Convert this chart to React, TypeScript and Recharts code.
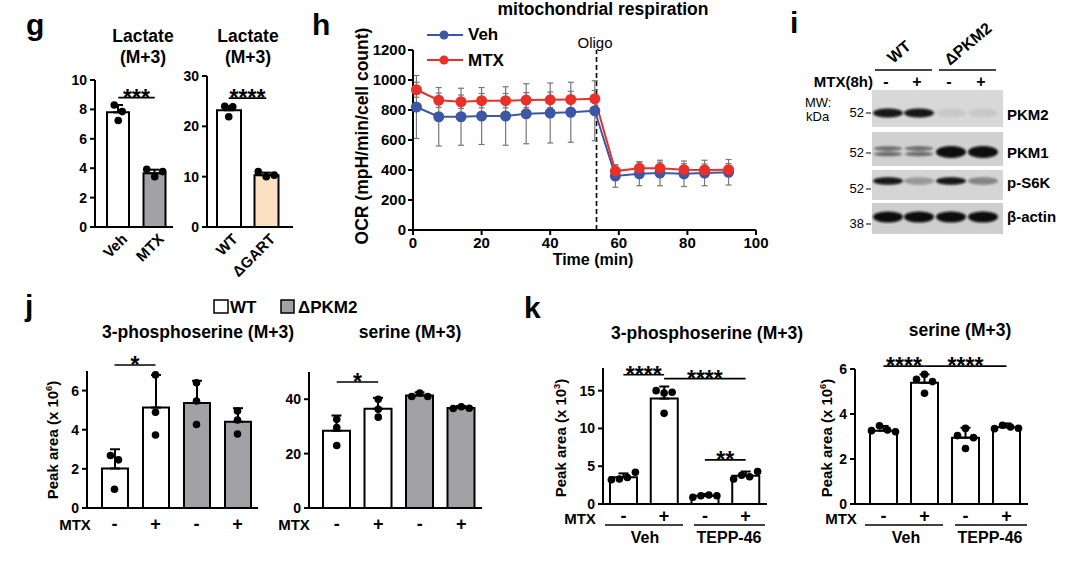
import React from 'react';
import { ComposedChart, LineChart, Line, Bar, Cell, ErrorBar, Scatter, XAxis, YAxis, ReferenceLine } from 'recharts';

const FONT = "'Liberation Sans', Arial, Helvetica, sans-serif";
const BLUE = '#3C57A6';
const RED = '#E8312A';
const GRAY = '#A2A2A6';
const PEACH = '#FBE0C4';

// g: lactate (M+3)
const lacMtxCats = ['Veh', 'MTX'];
const lacMtxMean = [7.8, 3.65];
const lacMtxSd = [0.5, 0.25];
const lacMtxPts = [[7.25, 8.3, 7.85], [3.93, 3.42, 3.77]];

const lacGartCats = ['WT', '\u0394GART'];
const lacGartMean = [23.2, 10.3];
const lacGartSd = [0.8, 0.5];
const lacGartPts = [[24.0, 21.9, 23.9], [11.0, 10.0, 10.3]];

// h: mitochondrial respiration
const ocrTime = [1, 7.5, 14, 20, 27, 33, 40, 46, 53, 59, 66, 72, 79, 85, 92];
const vehOcr = [820, 755, 755, 760, 760, 775, 780, 785, 795, 360, 375, 380, 375, 380, 385];
const vehOcrSd = [210, 195, 190, 190, 195, 200, 200, 200, 200, 75, 80, 85, 85, 85, 85];
const mtxOcr = [935, 865, 855, 862, 862, 866, 868, 870, 875, 393, 412, 412, 402, 400, 402];
const mtxOcrSd = [50, 48, 45, 48, 48, 50, 52, 55, 55, 40, 40, 40, 40, 40, 40];

// i: western blot band intensities per lane (WT -, WT +, dPKM2 -, dPKM2 +)
const pkm2Band = [0.95, 0.95, 0.07, 0.07];
const pkm1Band = [0.55, 0.55, 1, 1];
const ps6kBand = [0.95, 0.3, 0.95, 0.4];
const actinBand = [1, 1, 1, 1];

// j: WT vs dPKM2
const jCats = ['WT-', 'WT+', 'KO-', 'KO+'];
const mtxSigns = ['-', '+', '-', '+'];
const j3psMean = [2.02, 5.13, 5.37, 4.41];
const j3psSd = [0.98, 1.67, 1.13, 0.69];
const j3psPts = [[2.68, 0.96, 2.46], [4.89, 3.73, 6.8], [5.47, 4.27, 6.4], [4.5, 3.78, 4.95]];
const jSerMean = [28.4, 36.5, 41.4, 36.8];
const jSerSd = [5.6, 4.0, 1.1, 0.7];
const jSerPts = [[32.6, 29.6, 23.0], [40.0, 36.3, 33.4], [41.0, 42.3, 41.0], [36.6, 37.2, 36.7]];

// k: Veh vs TEPP-46
const kCats = ['Veh-', 'Veh+', 'TEPP-', 'TEPP+'];
const k3psMean = [3.55, 13.95, 1.08, 3.75];
const k3psSd = [0.5, 1.6, 0.25, 0.55];
const k3psPts = [[3.2, 3.3, 3.5, 4.2], [15.0, 14.7, 12.0, 14.8], [0.9, 1.1, 1.2, 1.1], [3.3, 3.8, 3.6, 4.3]];
const kSerMean = [3.26, 5.39, 2.95, 3.41];
const kSerSd = [0.21, 0.37, 0.44, 0.17];
const kSerPts = [[3.26, 3.48, 3.29, 3.21], [5.54, 5.76, 4.92, 5.44], [3.04, 3.36, 2.47, 2.95], [3.35, 3.5, 3.42, 3.37]];

type Box = { x0: number; y0: number; x1: number; y1: number };
type Sig = [number, number, string];

const MT = 40;
const MR = 10;
const XH = 34;
const YW = 40;
const AXIS = { stroke: '#000', strokeWidth: 2 };

function place(box: Box, yw: number, xh = XH, mr = MR) {
  return {
    left: box.x0 - yw,
    top: box.y0 - MT,
    width: box.x1 - box.x0 + yw + mr,
    height: box.y1 - box.y0 + MT + xh,
  };
}

// GraphPad-like spreading: only points that would overlap get pushed sideways
function spreadOffsets(vals: number[], ppu: number, thr = 7.5, step = 8) {
  const idx = vals.map((_, i) => i).sort((a, b) => vals[a] - vals[b]);
  const off = vals.map(() => 0);
  let cluster: number[] = [idx[0]];
  const flush = () => {
    const m = [...cluster].sort((a, b) => a - b);
    m.forEach((p, k) => {
      off[p] = (k - (m.length - 1) / 2) * step;
    });
  };
  for (let k = 1; k < idx.length; k++) {
    if ((vals[idx[k]] - vals[idx[k - 1]]) * ppu < thr) cluster.push(idx[k]);
    else {
      flush();
      cluster = [idx[k]];
    }
  }
  flush();
  return off;
}

const RotTick = (p: any) => {
  const x = p.x + 10;
  const y = p.y + 13;
  return (
    <text x={x} y={y} textAnchor="end" transform={`rotate(-45 ${x} ${y})`} fontSize={15} fontWeight={700} fontFamily={FONT} fill="#000">
      {p.payload.value}
    </text>
  );
};

const signTick = (dy: number) => (p: any) => (
  <text x={p.x} y={p.y + dy} textAnchor="middle" fontSize={18} fontWeight={700} fontFamily={FONT} fill="#000">
    {mtxSigns[p.index]}
  </text>
);

type BarPanelProps = {
  cats: string[];
  mean: number[];
  sd: number[];
  pts: number[][];
  fills: string[];
  box: Box;
  max: number;
  ticks: number[];
  padL: number;
  padR: number;
  barSize: number;
  sig: Sig[];
  levels: number[];
  tick: (p: any) => React.ReactElement;
  xh?: number;
};

function BarPanel({ cats, mean, sd, pts, fills, box, max, ticks, padL, padR, barSize, sig, levels, tick, xh = XH }: BarPanelProps) {
  const ppu = (box.y1 - box.y0) / max;
  const nPts = pts[0].length;
  const rows = cats.map((c, i) => {
    const r: any = { cat: c, mean: mean[i], err: [0, sd[i]], off: spreadOffsets(pts[i], ppu) };
    pts[i].forEach((v, k) => {
      r['p' + k] = v;
    });
    return r;
  });
  const pos = place(box, YW, xh);
  return (
    <div style={{ position: 'absolute', left: pos.left, top: pos.top }}>
      <ComposedChart width={pos.width} height={pos.height} data={rows} margin={{ top: MT, right: MR, bottom: 0, left: 0 }}>
        <XAxis
          dataKey="cat"
          type="category"
          interval={0}
          padding={{ left: padL, right: padR }}
          height={xh}
          tickLine={false}
          tickSize={0}
          tickMargin={0}
          axisLine={AXIS}
          tick={tick}
        />
        <YAxis
          type="number"
          domain={[0, max]}
          ticks={ticks}
          interval={0}
          width={YW}
          allowDataOverflow
          tickSize={5}
          tickMargin={3}
          axisLine={AXIS}
          tickLine={AXIS}
          tick={{ fill: '#000', fontSize: 14, fontWeight: 700, fontFamily: FONT }}
        />
        <Bar dataKey="mean" barSize={barSize} stroke="#000" strokeWidth={2} isAnimationActive={false}>
          {rows.map((r, i) => (
            <Cell key={r.cat} fill={fills[i]} />
          ))}
          <ErrorBar dataKey="err" direction="y" width={5} stroke="#000" strokeWidth={2} />
        </Bar>
        {Array.from({ length: nPts }, (_, k) => (
          <Scatter
            key={k}
            dataKey={'p' + k}
            isAnimationActive={false}
            shape={(s: any) => <circle cx={s.cx + s.payload.off[k]} cy={s.cy} r={3.8} fill="#000" />}
          />
        ))}
        {sig.map(([a, b, txt], i) => (
          <ReferenceLine
            key={i}
            segment={[
              { x: cats[a], y: levels[i] },
              { x: cats[b], y: levels[i] },
            ]}
            stroke="#000"
            strokeWidth={1.6}
            ifOverflow="visible"
            label={(l: any) => (
              <text x={l.viewBox.x + l.viewBox.width / 2} y={l.viewBox.y + 8} textAnchor="middle" fontSize={23} fontWeight={700} fontFamily={FONT} fill="#000">
                {txt}
              </text>
            )}
          />
        ))}
      </ComposedChart>
    </div>
  );
}

function OcrPanel() {
  const box = { x0: 413, y0: 50, x1: 756, y1: 230 };
  const yw = 62;
  const mr = 24;
  const pos = place(box, yw, XH, mr);
  const rows = ocrTime.map((t, i) => ({ t, veh: vehOcr[i], vehSd: vehOcrSd[i], mtx: mtxOcr[i], mtxSd: mtxOcrSd[i] }));
  const tickStyle = { fill: '#000', fontSize: 15, fontWeight: 700, fontFamily: FONT };
  return (
    <div style={{ position: 'absolute', left: pos.left, top: pos.top }}>
      <LineChart width={pos.width} height={pos.height} data={rows} margin={{ top: MT, right: mr, bottom: 0, left: 0 }}>
        <XAxis dataKey="t" type="number" domain={[0, 100]} ticks={[0, 20, 40, 60, 80, 100]} interval={0} height={XH} tickSize={5} tickMargin={2} axisLine={AXIS} tickLine={AXIS} tick={tickStyle} />
        <YAxis type="number" domain={[0, 1200]} ticks={[0, 200, 400, 600, 800, 1000, 1200]} interval={0} width={yw} tickSize={5} tickMargin={2} axisLine={AXIS} tickLine={AXIS} tick={tickStyle} />
        <ReferenceLine x={53.5} stroke="#000" strokeDasharray="5 3" strokeWidth={1.6} />
        <Line dataKey="veh" stroke={BLUE} strokeWidth={2} dot={{ r: 4.5, fill: BLUE, stroke: BLUE }} isAnimationActive={false}>
          <ErrorBar dataKey="vehSd" direction="y" width={3} stroke="#777" strokeWidth={1.2} />
        </Line>
        <Line dataKey="mtx" stroke={RED} strokeWidth={2} dot={{ r: 4.5, fill: RED, stroke: RED }} isAnimationActive={false}>
          <ErrorBar dataKey="mtxSd" direction="y" width={3} stroke="#777" strokeWidth={1.2} />
        </Line>
      </LineChart>
    </div>
  );
}

const B = (p: any) => <text fontFamily={FONT} fontWeight={700} fill="#000" {...p} />;
const R = (p: any) => <text fontFamily={FONT} fill="#000" {...p} />;

function YLabel({ x, y, exp, size = 15 }: { x: number; y: number; exp: string; size?: number }) {
  return (
    <B x={x} y={y} fontSize={size} textAnchor="middle" transform={`rotate(-90 ${x} ${y})`}>
      Peak area (x 10
      <tspan fontSize={size * 0.62} dy={-6}>
        {exp}
      </tspan>
      <tspan dy={6}>)</tspan>
    </B>
  );
}

function Blot() {
  const lanes = [888, 919, 951, 983];
  const rows = [
    { label: 'PKM2', y0: 90, y1: 127, cy: 113, ry: 4.5, vals: pkm2Band, mw: '52', mwY: 117, ly: 120, bg: '#d8d8d8' },
    { label: 'PKM1', y0: 132, y1: 166, cy: 152, ry: 6, vals: pkm1Band, mw: '52', mwY: 157, ly: 158, bg: '#d0d0d0' },
    { label: 'p-S6K', y0: 170, y1: 200, cy: 181, ry: 3.8, vals: ps6kBand, mw: '52', mwY: 193, ly: 188, bg: '#d5d5d5' },
    { label: '\u03b2-actin', y0: 203, y1: 234, cy: 217, ry: 5.5, vals: actinBand, mw: '38', mwY: 228, ly: 222, bg: '#cecece' },
  ];
  return (
    <g>
      <defs>
        <filter id="blur" x="-20%" y="-50%" width="140%" height="200%">
          <feGaussianBlur stdDeviation="1.3" />
        </filter>
      </defs>
      <B x={790} y={33} fontSize={30}>i</B>
      <B x={893} y={64} fontSize={16} transform="rotate(-40 893 64)">WT</B>
      <B x={950} y={66} fontSize={16} transform="rotate(-40 950 66)">{'\u0394PKM2'}</B>
      <line x1={875} y1={70} x2={932} y2={70} stroke="#444" strokeWidth={2} />
      <line x1={939} y1={70} x2={996} y2={70} stroke="#444" strokeWidth={2} />
      <B x={873} y={87} fontSize={15} textAnchor="end">MTX(8h)</B>
      {mtxSigns.map((s, i) => (
        <B key={i} x={lanes[i] - 2} y={87} fontSize={16} textAnchor="middle">
          {s}
        </B>
      ))}
      <R x={805} y={107} fontSize={13}>MW:</R>
      <R x={806} y={121} fontSize={13}>kDa</R>
      {rows.map((r) => (
        <g key={r.label}>
          <rect x={872} y={r.y0} width={131} height={r.y1 - r.y0} fill={r.bg} />
          {r.vals.map((v, i) =>
            r.label === 'PKM1' && v < 0.7 ? (
              <g key={i} filter="url(#blur)">
                <ellipse cx={lanes[i]} cy={r.cy - 3.5} rx={14} ry={2.2} fill="#111" opacity={v} />
                <ellipse cx={lanes[i]} cy={r.cy + 2} rx={14} ry={2.2} fill="#111" opacity={v} />
              </g>
            ) : (
              <ellipse key={i} cx={lanes[i]} cy={r.cy} rx={15} ry={r.ry} fill="#080808" opacity={v} filter="url(#blur)" />
            )
          )}
          <R x={864} y={r.mwY} fontSize={13} textAnchor="end">
            {r.mw}
          </R>
          <line x1={866} y1={r.mwY - 4} x2={871} y2={r.mwY - 4} stroke="#000" strokeWidth={1} />
          <B x={1007} y={r.ly} fontSize={15}>
            {r.label}
          </B>
        </g>
      ))}
    </g>
  );
}

export default function App() {
  return (
    <div style={{ position: 'absolute', left: 0, top: 0, width: 1080, height: 571, background: '#fff', fontFamily: FONT, overflow: 'hidden' }}>
      <BarPanel
        cats={lacMtxCats}
        mean={lacMtxMean}
        sd={lacMtxSd}
        pts={lacMtxPts}
        fills={['#fff', GRAY]}
        box={{ x0: 95, y0: 80, x1: 173, y1: 227 }}
        max={10}
        ticks={[0, 2, 4, 6, 8, 10]}
        padL={5}
        padR={0}
        barSize={22}
        sig={[[0, 1, '***']]}
        levels={[8.8]}
        tick={RotTick}
        xh={64}
      />
      <BarPanel
        cats={lacGartCats}
        mean={lacGartMean}
        sd={lacGartSd}
        pts={lacGartPts}
        fills={['#fff', PEACH]}
        box={{ x0: 207, y0: 76, x1: 293, y1: 227 }}
        max={30}
        ticks={[0, 10, 20, 30]}
        padL={3}
        padR={8}
        barSize={24}
        sig={[[0, 1, '****']]}
        levels={[25.6]}
        tick={RotTick}
        xh={64}
      />
      <OcrPanel />
      <BarPanel
        cats={jCats}
        mean={j3psMean}
        sd={j3psSd}
        pts={j3psPts}
        fills={['#fff', '#fff', GRAY, GRAY]}
        box={{ x0: 87, y0: 371, x1: 258, y1: 508 }}
        max={7}
        ticks={[0, 2, 4, 6]}
        padL={7}
        padR={0}
        barSize={26}
        sig={[[0, 1, '*']]}
        levels={[7.31]}
        tick={signTick(22)}
      />
      <BarPanel
        cats={jCats}
        mean={jSerMean}
        sd={jSerSd}
        pts={jSerPts}
        fills={['#fff', '#fff', GRAY, GRAY]}
        box={{ x0: 309, y0: 372, x1: 482, y1: 508 }}
        max={50}
        ticks={[0, 20, 40]}
        padL={7}
        padR={0}
        barSize={27}
        sig={[[0, 1, '*']]}
        levels={[46.3]}
        tick={signTick(22)}
      />
      <BarPanel
        cats={kCats}
        mean={k3psMean}
        sd={k3psSd}
        pts={k3psPts}
        fills={['#fff', '#fff', '#fff', '#fff']}
        box={{ x0: 603, y0: 368, x1: 767, y1: 504 }}
        max={18}
        ticks={[0, 5, 10, 15]}
        padL={0}
        padR={1}
        barSize={27}
        sig={[
          [0, 1, '****'],
          [1, 3, '****'],
          [2, 3, '**'],
        ]}
        levels={[17.1, 16.6, 5.84]}
        tick={signTick(18)}
      />
      <BarPanel
        cats={kCats}
        mean={kSerMean}
        sd={kSerSd}
        pts={kSerPts}
        fills={['#fff', '#fff', '#fff', '#fff']}
        box={{ x0: 855, y0: 369, x1: 1028, y1: 504 }}
        max={6}
        ticks={[0, 2, 4, 6]}
        padL={8}
        padR={1}
        barSize={27}
        sig={[
          [0, 1, '****'],
          [1, 3, '****'],
        ]}
        levels={[6.13, 6.13]}
        tick={signTick(18)}
      />
      <svg width={1080} height={571} style={{ position: 'absolute', left: 0, top: 0, pointerEvents: 'none' }}>
        {/* g */}
        <B x={26} y={35} fontSize={30}>g</B>
        <B x={143} y={42} fontSize={17.5} textAnchor="middle">Lactate</B>
        <B x={143} y={63} fontSize={17.5} textAnchor="middle">(M+3)</B>
        <B x={248} y={42} fontSize={17.5} textAnchor="middle">Lactate</B>
        <B x={248} y={63} fontSize={17.5} textAnchor="middle">(M+3)</B>
        {/* h */}
        <B x={312} y={35} fontSize={30}>h</B>
        <B x={603} y={15} fontSize={17.5} textAnchor="middle">mitochondrial respiration</B>
        <line x1={427} y1={35} x2={463} y2={35} stroke={BLUE} strokeWidth={2} />
        <circle cx={444} cy={35} r={4.5} fill={BLUE} />
        <B x={468} y={40} fontSize={17}>Veh</B>
        <line x1={427} y1={60} x2={463} y2={60} stroke={RED} strokeWidth={2} />
        <circle cx={444} cy={60} r={4.5} fill={RED} />
        <B x={468} y={66} fontSize={17}>MTX</B>
        <R x={595} y={48} fontSize={15} textAnchor="middle">Oligo</R>
        <B x={368} y={136} fontSize={17.5} textAnchor="middle" transform="rotate(-90 368 136)">OCR (mpH/min/cell count)</B>
        <B x={593} y={265} fontSize={16} textAnchor="middle">Time (min)</B>
        {/* i */}
        <Blot />
        {/* j */}
        <B x={25} y={316} fontSize={30}>j</B>
        <rect x={214} y={300} width={14} height={13} fill="#fff" stroke="#000" strokeWidth={1.5} />
        <B x={230} y={313} fontSize={17}>WT</B>
        <rect x={281} y={300} width={13} height={13} fill={GRAY} stroke="#000" strokeWidth={1.5} />
        <B x={298} y={313} fontSize={17}>{'\u0394PKM2'}</B>
        <B x={198} y={338} fontSize={17.5} textAnchor="middle">3-phosphoserine (M+3)</B>
        <B x={410} y={338} fontSize={17.5} textAnchor="middle">serine (M+3)</B>
        <YLabel x={58} y={440} exp="6" />
        <B x={75} y={530} fontSize={15} textAnchor="middle">MTX</B>
        <B x={294} y={530} fontSize={15} textAnchor="middle">MTX</B>
        {/* k */}
        <B x={524} y={318} fontSize={30}>k</B>
        <B x={707} y={339} fontSize={17.5} textAnchor="middle">3-phosphoserine (M+3)</B>
        <B x={960} y={336} fontSize={17.5} textAnchor="middle">serine (M+3)</B>
        <YLabel x={566} y={438} exp="3" />
        <YLabel x={832} y={438} exp="6" />
        <B x={580} y={524} fontSize={15} textAnchor="middle">MTX</B>
        <line x1={605} y1={525} x2={683} y2={525} stroke="#000" strokeWidth={1.6} />
        <line x1={694} y1={525} x2={765} y2={525} stroke="#000" strokeWidth={1.6} />
        <B x={645} y={543} fontSize={16} textAnchor="middle">Veh</B>
        <B x={729} y={543} fontSize={16} textAnchor="middle">TEPP-46</B>
        <B x={841} y={524} fontSize={15} textAnchor="middle">MTX</B>
        <line x1={865} y1={525} x2={943} y2={525} stroke="#000" strokeWidth={1.6} />
        <line x1={955} y1={525} x2={1027} y2={525} stroke="#000" strokeWidth={1.6} />
        <B x={906} y={543} fontSize={16} textAnchor="middle">Veh</B>
        <B x={990} y={543} fontSize={16} textAnchor="middle">TEPP-46</B>
      </svg>
    </div>
  );
}
